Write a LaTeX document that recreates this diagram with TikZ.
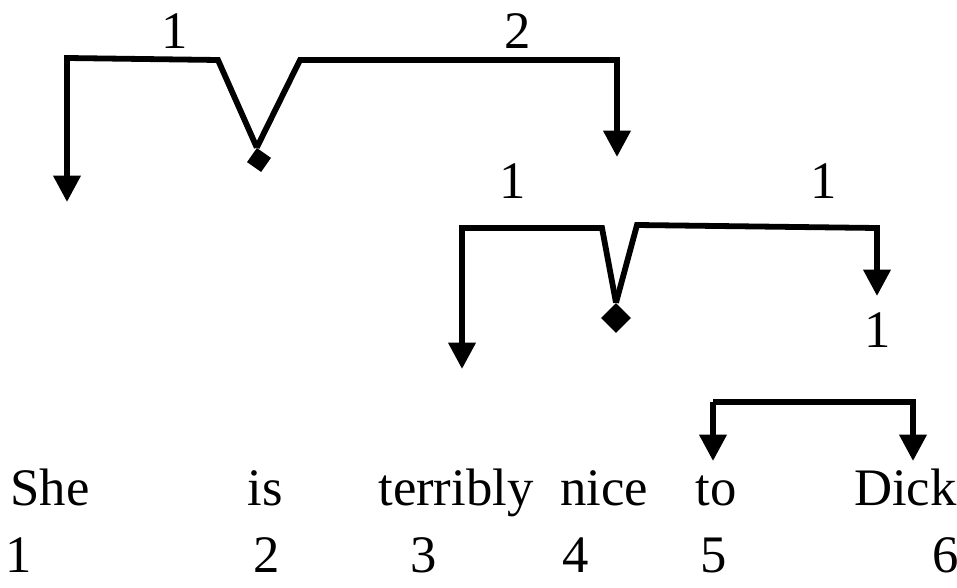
\documentclass[tikz,border=0pt]{standalone}
\usepackage{fontspec}
\setmainfont{Liberation Serif}
\usetikzlibrary{arrows.meta,shapes.geometric}

\begin{document}
\begin{tikzpicture}[x=0.02cm,y=-0.02cm]
    \useasboundingbox (0,0) rectangle (957,588);

    % パラメータの定義
    \pgfmathsetmacro{\W}{3.3}
    \tikzset{
        dep/.style={line width=\W pt, -{Triangle[width=15pt,length=15pt]}},
        head/.style={diamond, fill, inner sep=0pt, minimum size=#1},
        head/.default=12pt,
        txt/.style={font=\fontsize{30}{32}\selectfont, inner sep=0pt},
    }

    % 単語と番号
    \node[txt, anchor=base west] (she) at (10,505) {She};
    \node[txt, anchor=base west] (is) at (247,505) {is};
    \node[txt, anchor=base west] (terribly) at (378,505) {terribly};
    \node[txt, anchor=base west] (nice) at (560,505) {nice};
    \node[txt, anchor=base west] (to) at (695,505) {to};
    \node[txt, anchor=base east] (dick) at (957,505) {Dick};
    \node[txt, anchor=base west] (n1) at (5,572) {1};
    \node[txt, anchor=base west] (n2) at (253,572) {2};
    \node[txt, anchor=base west] (n3) at (410,572) {3};
    \node[txt, anchor=base west] (n4) at (562,572) {4};
    \node[txt, anchor=base west] (n5) at (700,572) {5};
    \node[txt, anchor=base west] (n6) at (932,572) {6};

    % 頂点の座標の定義
    \node[head=14pt, rotate=10] (da) at (259,160) {};
    \coordinate (A1) at (67,58);
    \coordinate (A2) at (218,60);
    \coordinate (A3) at (300,60);
    \coordinate (A4) at (617,60);
    \coordinate (Ae) at (67,202);
    \coordinate (Af) at (617,157);

    \node[head=17pt] (db) at (616,318) {};
    \coordinate (B1) at (462,228);
    \coordinate (B2) at (602,228);
    \coordinate (B3) at (637,225);
    \coordinate (B4) at (877,228);
    \coordinate (Be) at (462,369);
    \coordinate (Bf) at (877,296);

    \coordinate (C1) at (713,402);
    \coordinate (C2) at (913,402);
    \coordinate (Ce) at (713,461);
    \coordinate (Cf) at (913,461);

    % ラベル
    \node[txt] (la) at (175,31) {1};
    \node[txt] (lb) at (518,31) {2};
    \node[txt] (lc) at (513,181) {1};
    \node[txt] (ld) at (824,181) {1};
    \node[txt] (le) at (878,330) {1};

    % 線の描画
    \draw [dep] (da.north) -- (A2) -- (A1) -- (Ae);
    \draw [dep] (da.north) -- (A3) -- (A4) -- (Af);
    \draw [dep] (db.north) -- (B2) -- (B1) -- (Be);
    \draw [dep] (db.north) -- (B3) -- (B4) -- (Bf);
    \draw [dep] (C1) -- (C2) -- (Cf);
    \draw [dep] (C1) -- (Ce);

\end{tikzpicture}
\end{document}
